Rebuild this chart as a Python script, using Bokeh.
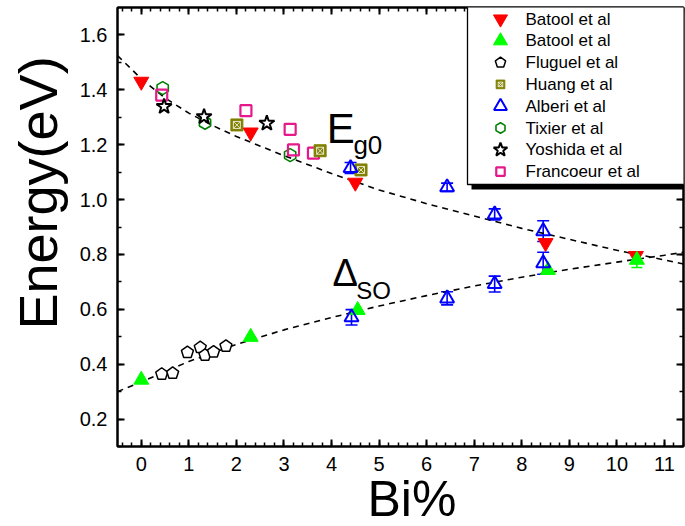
import numpy as np
from bokeh.plotting import figure
from bokeh.models import (Range1d, LinearAxis, FixedTicker, PrintfTickFormatter, Whisker,
                          ColumnDataSource, Label, BoxAnnotation, PolyAnnotation, TeeHead, Title)
from bokeh.embed import file_html
from bokeh.resources import INLINE

# ---------------- data ----------------
batool_x = [0.0, 2.3, 4.5, 8.5, 10.4]
batool_eg = [1.43, 1.245, 1.062, 0.842, 0.795]
batool_so_x = [0.0, 2.3, 4.55, 8.55, 10.42]
batool_so = [0.343, 0.499, 0.597, 0.743, 0.780]
batool_so_err = [0.0, 0.0, 0.0, 0.0, 0.028]

fluguel_x = [0.43, 0.66, 0.97, 1.24, 1.34, 1.52, 1.78]
fluguel_y = [0.364, 0.367, 0.443, 0.461, 0.433, 0.445, 0.466]

huang_x = [2.01, 3.76, 4.62]
huang_y = [1.272, 1.178, 1.108]

alberi_eg_x = [4.4, 6.43, 7.43, 8.45]
alberi_eg = [1.115, 1.045, 0.946, 0.885]
alberi_eg_err = [0.02, 0.015, 0.02, 0.038]
alberi_so_x = [4.42, 6.43, 7.43, 8.45]
alberi_so = [0.571, 0.640, 0.692, 0.768]
alberi_so_err = [0.028, 0.024, 0.029, 0.040]

tixier_x = [0.45, 1.34, 3.13]
tixier_y = [1.406, 1.280, 1.162]

yoshida_x = [0.48, 1.32, 2.64]
yoshida_y = [1.339, 1.302, 1.278]

francoeur_x = [0.43, 2.2, 3.13, 3.2, 3.62]
francoeur_y = [1.381, 1.324, 1.256, 1.181, 1.169]

eg_fit_x = [-0.5, 0, 0.5, 1, 1.5, 2, 3, 4, 5, 6, 7, 8, 9, 10, 11, 11.4]
eg_fit_y = [1.525, 1.44, 1.37, 1.315, 1.27, 1.23, 1.16, 1.095, 1.035, 0.985, 0.94,
            0.895, 0.855, 0.815, 0.78, 0.765]
so_fit_x = [-0.5, 0, 1, 2, 3, 4, 5, 6, 7, 8, 9, 10, 11, 11.4]
so_fit_y = [0.30, 0.335, 0.41, 0.472, 0.525, 0.57, 0.612, 0.65, 0.685, 0.717, 0.746,
            0.772, 0.797, 0.808]

x_ticks = [0, 1, 2, 3, 4, 5, 6, 7, 8, 9, 10, 11]
y_ticks = [0.2, 0.4, 0.6, 0.8, 1.0, 1.2, 1.4, 1.6]

legend_labels = ["Batool et al", "Batool et al", "Fluguel et al", "Huang et al",
                 "Alberi et al", "Tixier et al", "Yoshida et al", "Francoeur et al"]

# ---------------- layout ----------------
W, H = 685, 526
BL, BR, BT, BB = 117, 2, 7, 80
XR = (-0.5, 11.4)
YR = (0.1, 1.7)
FONT = "Liberation Sans"
RED, GREEN, BLUE = "#FF0000", "#00FF00", "#0000FF"
OLIVE, DGREEN, PINK = "#808000", "#008000", "#E5198A"

p = figure(width=W, height=H, output_backend="svg", toolbar_location=None,
           x_range=Range1d(*XR), y_range=Range1d(*YR),
           min_border_left=BL, min_border_right=BR, min_border_top=BT, min_border_bottom=BB)
p.grid.visible = False
p.outline_line_color = "black"
p.outline_line_width = 2
p.background_fill_color = "white"
p.border_fill_color = "white"

x_minor = [round(-0.4 + 0.2 * i, 2) for i in range(60)]
y_minor = [round(0.1 + 0.1 * i, 2) for i in range(16)]


def style_axis(ax, ticks, minor, fmt, show_labels=True):
    ax.ticker = FixedTicker(ticks=ticks, minor_ticks=minor)
    ax.formatter = PrintfTickFormatter(format=fmt)
    ax.axis_line_width = 2
    ax.axis_line_color = "black"
    ax.major_tick_in = 7
    ax.major_tick_out = 0
    ax.minor_tick_in = 4
    ax.minor_tick_out = 0
    ax.major_tick_line_width = 2
    ax.minor_tick_line_width = 1.5
    ax.major_tick_line_color = "black"
    ax.minor_tick_line_color = "black"
    ax.major_label_text_font = FONT
    if show_labels:
        ax.major_label_text_color = "black"
        ax.major_label_text_font_size = "20px"
    else:
        ax.major_label_text_color = None
        ax.major_label_text_font_size = "1px"
        ax.major_label_standoff = 0


xa = p.xaxis[0]
ya = p.yaxis[0]
style_axis(xa, x_ticks, x_minor, "%d")
style_axis(ya, y_ticks, y_minor, "%.1f")
xa.major_label_standoff = 10
ya.major_label_standoff = 10

top = LinearAxis()
right = LinearAxis()
style_axis(top, x_ticks, x_minor, "%d", show_labels=False)
style_axis(right, y_ticks, y_minor, "%.1f", show_labels=False)
p.add_layout(top, "above")
p.add_layout(right, "right")

# axis titles as side titles (so they can sit off-centre like the reference)
p.add_layout(Title(text="Energy(eV)", align="left", offset=117, vertical_align="top",
                   standoff=14, text_font=FONT, text_font_size="54px",
                   text_font_style="normal", text_color="black"), "left")
p.add_layout(Title(text="Bi%", align="left", offset=250, vertical_align="bottom",
                   standoff=-10, text_font=FONT, text_font_size="50px",
                   text_font_style="normal", text_color="black"), "below")

FRAME_H = H - BT - BB

# ---------------- fits ----------------
p.line(eg_fit_x, eg_fit_y, line_color="black", line_width=1.6, line_dash="6 5")
p.line(so_fit_x, so_fit_y, line_color="black", line_width=1.6, line_dash="6 5")

# ---------------- data marks ----------------
p.scatter(tixier_x, tixier_y, marker="hex", size=13, angle=np.pi / 2,
          fill_color=None, line_color=DGREEN, line_width=1.6)
p.scatter(francoeur_x, francoeur_y, marker="square", size=11,
          fill_color=None, line_color=PINK, line_width=2.2)
p.scatter(yoshida_x, yoshida_y, marker="star", size=16,
          fill_color="white", line_color="black", line_width=2)
p.scatter(huang_x, huang_y, marker="square", size=12, fill_color=OLIVE, line_color=OLIVE)
p.scatter(huang_x, huang_y, marker="square_x", size=7,
          fill_color=None, line_color="white", line_width=0.8)

# pentagons for Fluguel (shape built around each data point)
frame_w = W - BL - BR
sx = (XR[1] - XR[0]) / frame_w
sy = (YR[1] - YR[0]) / FRAME_H
r_px = 6.3
ang5 = np.pi / 2 + np.arange(5) * 2 * np.pi / 5
pent_xs = [list(x + r_px * sx * np.cos(ang5)) for x in fluguel_x]
pent_ys = [list(y + r_px * sy * np.sin(ang5)) for y in fluguel_y]
p.patches(pent_xs, pent_ys, fill_color="white", line_color="black", line_width=1.5)

p.scatter(batool_x, batool_eg, marker="inverted_triangle", size=15,
          fill_color=RED, line_color=RED)


def whisker(xs_, ys_, es_, color, head, lw):
    keep = [i for i, e in enumerate(es_) if e > 0]
    src = ColumnDataSource(dict(x=[xs_[i] for i in keep],
                                upper=[ys_[i] + es_[i] for i in keep],
                                lower=[ys_[i] - es_[i] for i in keep]))
    p.add_layout(Whisker(base="x", upper="upper", lower="lower", source=src,
                         line_color=color, line_width=lw,
                         upper_head=TeeHead(size=head, line_color=color, line_width=lw),
                         lower_head=TeeHead(size=head, line_color=color, line_width=lw)))


whisker(batool_so_x, batool_so, batool_so_err, GREEN, 11, 1.5)
p.scatter(batool_so_x, batool_so, marker="triangle", size=15, fill_color=GREEN, line_color=GREEN)

whisker(alberi_eg_x, alberi_eg, alberi_eg_err, BLUE, 12, 1.6)
whisker(alberi_so_x, alberi_so, alberi_so_err, BLUE, 12, 1.6)
p.scatter(alberi_eg_x, alberi_eg, marker="triangle", size=14,
          fill_color=None, line_color=BLUE, line_width=2)
p.scatter(alberi_so_x, alberi_so, marker="triangle", size=14,
          fill_color=None, line_color=BLUE, line_width=2)

# ---------------- curve labels ----------------
p.add_layout(Label(x=3.9, y=1.259, text="E", text_font=FONT, text_font_size="42px",
                   text_baseline="alphabetic", text_color="black"))
p.add_layout(Label(x=4.46, y=1.199, text="g0", text_font=FONT, text_font_size="26px",
                   text_baseline="alphabetic", text_color="black"))
p.add_layout(Label(x=4.02, y=0.732, text="\u0394", text_font=FONT, text_font_size="38px",
                   text_baseline="alphabetic", text_color="black"))
p.add_layout(Label(x=4.52, y=0.670, text="SO", text_font=FONT, text_font_size="24px",
                   text_baseline="alphabetic", text_color="black"))


# ---------------- legend (screen units, frame bottom-left origin) ----------------
def fx(cx):
    return cx - BL


def fy(cy):
    return (H - BB) - cy


LEFT, RIGHT, TOP, BOTTOM = 467, 690, 3, 184
p.add_layout(BoxAnnotation(left=fx(LEFT + 4), right=fx(RIGHT + 4), bottom=fy(BOTTOM + 5),
                           top=fy(BOTTOM - 20),
                           left_units="screen", right_units="screen",
                           top_units="screen", bottom_units="screen",
                           fill_color="black", fill_alpha=1, line_color=None))
p.add_layout(BoxAnnotation(left=fx(LEFT), right=fx(RIGHT), bottom=fy(BOTTOM), top=fy(TOP),
                           left_units="screen", right_units="screen",
                           top_units="screen", bottom_units="screen",
                           fill_color="white", fill_alpha=1,
                           line_color="black", line_width=1.3, line_alpha=1))


def poly(cx, cy, r, n, start, **kw):
    a = np.deg2rad(start) + np.arange(n) * 2 * np.pi / n
    p.add_layout(PolyAnnotation(xs=list(fx(cx) + r * np.cos(a)), ys=list(fy(cy) + r * np.sin(a)),
                                xs_units="screen", ys_units="screen", line_alpha=1, **kw))


def star(cx, cy, ro, ri, **kw):
    a = np.pi / 2 + np.arange(10) * np.pi / 5
    rr = np.where(np.arange(10) % 2 == 0, ro, ri)
    p.add_layout(PolyAnnotation(xs=list(fx(cx) + rr * np.cos(a)), ys=list(fy(cy) + rr * np.sin(a)),
                                xs_units="screen", ys_units="screen", line_alpha=1, **kw))


def seg(x0, y0, x1, y1, **kw):
    p.add_layout(PolyAnnotation(xs=[fx(x0), fx(x1)], ys=[fy(y0), fy(y1)],
                                xs_units="screen", ys_units="screen", fill_alpha=0,
                                line_alpha=1, **kw))


MX, TX = 500, 525
rows = [18.5 + 21.8 * k for k in range(8)]
filled = dict(fill_alpha=1, line_width=1)
openw = dict(fill_color="white", fill_alpha=1)

poly(MX, rows[0], 8.1, 3, -90, fill_color=RED, line_color=RED, **filled)
poly(MX, rows[1], 8.1, 3, 90, fill_color=GREEN, line_color=GREEN, **filled)
poly(MX, rows[2], 5.4, 5, 90, line_color="black", line_width=1.5, **openw)
poly(MX, rows[3], 6.1, 4, 45, fill_color=OLIVE, line_color=OLIVE, **filled)
poly(MX, rows[3], 3.2, 4, 45, fill_alpha=0, line_color="white", line_width=0.8)
seg(MX - 2.2, rows[3] - 2.2, MX + 2.2, rows[3] + 2.2, line_color="white", line_width=0.8)
seg(MX - 2.2, rows[3] + 2.2, MX + 2.2, rows[3] - 2.2, line_color="white", line_width=0.8)
poly(MX, rows[4], 7.5, 3, 90, line_color=BLUE, line_width=2, **openw)
poly(MX, rows[5], 5.2, 6, 90, line_color=DGREEN, line_width=1.6, **openw)
star(MX, rows[6], 7.2, 2.9, fill_color="white", fill_alpha=1, line_color="black", line_width=2)
poly(MX, rows[7], 6.0, 4, 45, line_color=PINK, line_width=2.2, **openw)

for lab, cy in zip(legend_labels, rows):
    p.add_layout(Label(x=fx(TX), y=fy(cy), x_units="screen", y_units="screen", text=lab,
                       text_baseline="middle", text_align="left", text_font=FONT,
                       text_font_size="17px", text_color="black"))

open("out.html", "w").write(file_html(p, INLINE))
